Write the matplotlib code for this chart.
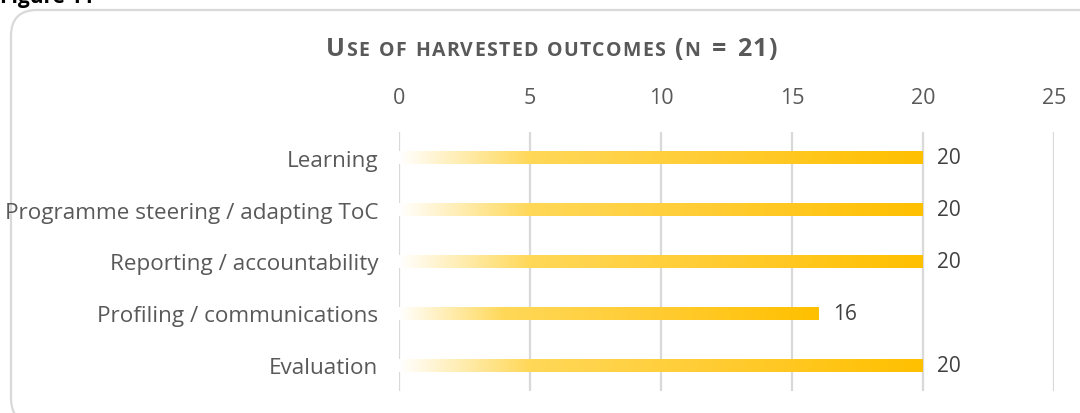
import numpy as np
import matplotlib.pyplot as plt
from matplotlib.colors import LinearSegmentedColormap
from matplotlib.patches import FancyBboxPatch

# Data
categories = ['Learning', 'Programme steering / adapting ToC', 'Reporting / accountability',
              'Profiling / communications', 'Evaluation']
values = [20, 20, 20, 16, 20]
xticks = [0, 5, 10, 15, 20, 25]

plt.rcParams['font.family'] = ['Open Sans', 'DejaVu Sans']
grey = '#595959'
W, H = 1080, 414

fig = plt.figure(figsize=(W / 100, H / 100), dpi=100)

# rounded frame (runs off the right and bottom edges, like the original)
frame = FancyBboxPatch((11 / 100, (H - 425) / 100), 1100 / 100, 414 / 100,
                       boxstyle='round,pad=0,rounding_size=0.26',
                       transform=fig.dpi_scale_trans, facecolor='none',
                       edgecolor='#D9D9D9', linewidth=1.6, zorder=-1)
fig.patches.append(frame)

fig.text(0.0, 1 - 3 / H, 'Figure 11', fontsize=15, fontweight='bold',
         color='black', va='baseline', ha='left')

ax = fig.add_axes([399 / W, 1 - 392 / H, 655 / W, 259 / H])
ax.patch.set_visible(False)

# gradient bars
cmap = LinearSegmentedColormap.from_list(
    'gold', [(0, '#FFFFFF'), (0.25, '#FFD858'), (0.6, '#FFCC33'), (1, '#FFC000')])
grad = np.linspace(0, 1, 256).reshape(1, -1)
bar_h = 0.125
for i, v in enumerate(values):
    ax.imshow(grad, cmap=cmap, aspect='auto', extent=(0, v, i + bar_h, i - bar_h),
              zorder=2, interpolation='bicubic')
    ax.text(v + 0.55, i, str(v), va='center', ha='left', fontsize=15, color='#404040')

ax.set_xlim(0, 25)
ax.set_ylim(len(categories) - 0.5, -0.5)

for x in xticks:
    ax.axvline(x, color='#D9D9D9', linewidth=1.6, zorder=1)

ax.set_yticks(range(len(categories)))
ax.set_yticklabels(categories, fontsize=16.2, color=grey)
ax.set_xticks(xticks)
ax.set_xticklabels(xticks, fontsize=15.5, color=grey)
ax.xaxis.tick_top()
ax.tick_params(length=0, pad=15, axis='y')
ax.tick_params(length=0, pad=17, axis='x')
for s in ax.spines.values():
    s.set_visible(False)

# title in letter-spaced small caps
pieces = [('U', 18), ('SE OF HARVESTED OUTCOMES ', 14), ('(', 18), ('N', 14), (' = 21)', 18)]
title_y = 1 - 56 / H
title_left, title_right = 326, 777
chars = []
for s, size in pieces:
    for ch in s:
        chars.append((ch, size))

texts = [fig.text(0, title_y, ch, fontsize=size, fontweight='bold', color=grey,
                  va='baseline', ha='left') for ch, size in chars]
fig.canvas.draw()
r = fig.canvas.get_renderer()
widths = []
for tx, (ch, size) in zip(texts, chars):
    if ch == ' ':
        widths.append(size * 0.5)
    else:
        widths.append(tx.get_window_extent(r).width)
tracking = (title_right - title_left - sum(widths)) / (len(chars) - 1)
x0 = title_left
for tx, w in zip(texts, widths):
    tx.set_position((x0 / W, title_y))
    x0 += w + tracking

fig.savefig('out.png', dpi=100)
